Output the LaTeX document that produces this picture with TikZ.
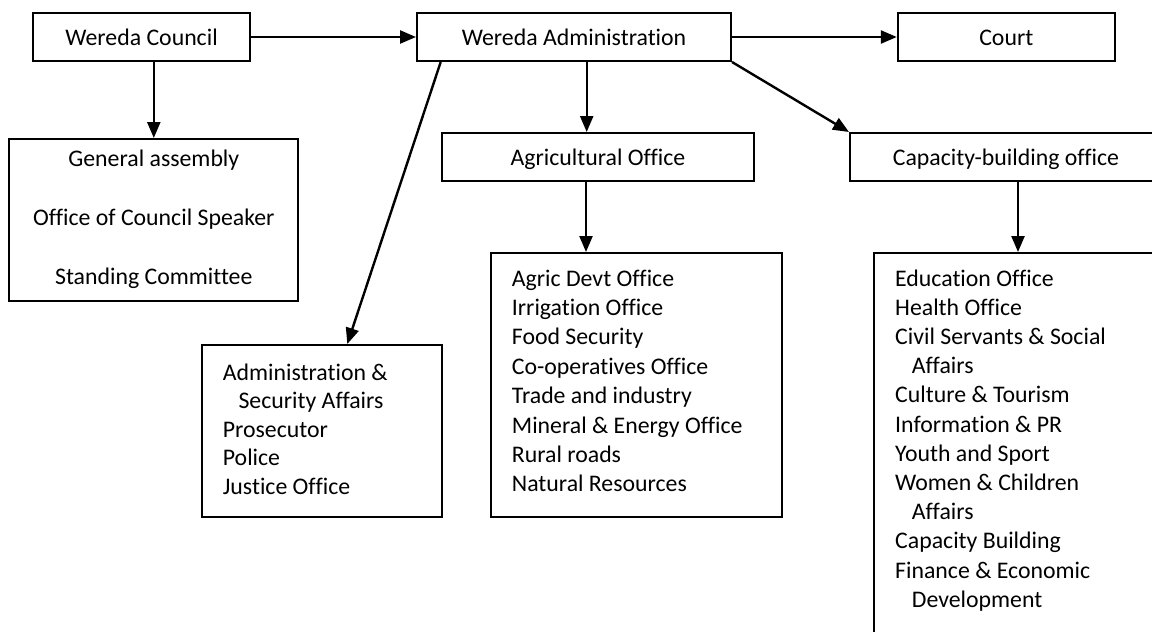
\documentclass[tikz,border=0pt]{standalone}
\usepackage{fontspec}
\setmainfont{Carlito}[Ligatures=NoCommon]
\usetikzlibrary{arrows.meta,calc}
\begin{document}
\begin{tikzpicture}[x=1pt,y=-1pt,
  box/.style={draw, line width=2pt, inner sep=0pt, minimum height=48pt, text height=17pt, text depth=0pt, font=\fontsize{23.8}{29}\selectfont},
  frame/.style={draw, line width=2pt, inner sep=0pt},
  lst/.style={anchor=base west, inner sep=0pt, font=\fontsize{23.8}{29}\selectfont},
  ctext/.style={anchor=base, inner sep=0pt, font=\fontsize{23.8}{29}\selectfont},
  conn/.style={line width=2.4pt, -{Triangle[length=16pt,width=13pt]}}]
\useasboundingbox (0,0) rectangle (1152,632);
\clip (0,0) rectangle (1152,632);
% top row
\node[box, minimum width=217pt] (council) at (141.5,37) {Wereda Council};
\node[box, minimum width=314pt] (admin) at (574,37) {Wereda Administration};
\node[box, minimum width=217pt] (court) at (1006.3,37) {Court};
% second row
\node[box, minimum width=312pt] (agoff) at (598,157) {Agricultural Office};
\node[box, minimum width=312pt] (capoff) at (1006,157) {Capacity-building office};
% frames
\node[frame, minimum width=289pt, minimum height=162pt] (gen) at (153.8,220) {};
\node[frame, minimum width=240pt, minimum height=172pt] (adlist) at (322,431) {};
\node[frame, minimum width=291pt, minimum height=264pt] (aglist) at (636.5,385) {};
\node[frame, minimum width=306pt, minimum height=407pt] (caplist) at (1027,456.5) {};
% general box text
\node[ctext] (g1) at (153.8,166) {General assembly};
\node[ctext] (g2) at (153.8,225) {Office of Council Speaker};
\node[ctext] (g3) at (153.8,284) {Standing Committee};
% lists
\node[lst] (adtext) at (222.7,380) {\parbox[t]{215pt}{\fontsize{23.8}{28.5}\selectfont\raggedright
Administration \&\\
\hspace*{15.6pt}Security Affairs\\
Prosecutor\\
Police\\
Justice Office}};
\node[lst] (agtext) at (511.7,286) {\parbox[t]{265pt}{\fontsize{23.8}{29.4}\selectfont\raggedright
Agric Devt Office\\
Irrigation Office\\
Food Security\\
Co-operatives Office\\
Trade and industry\\
Mineral \& Energy Office\\
Rural roads\\
Natural Resources}};
\node[lst] (captext) at (895,286) {\parbox[t]{250pt}{\fontsize{23.8}{29.2}\selectfont\raggedright
Education Office\\
Health Office\\
Civil Servants \& Social\\
\hspace*{16.7pt}Affairs\\
Culture \& Tourism\\
Information \& PR\\
Youth and Sport\\
Women \& Children\\
\hspace*{16.7pt}Affairs\\
Capacity Building\\
Finance \& Economic\\
\hspace*{16.7pt}Development}};
% connectors
\draw[conn] (council.east) -- (admin.west);
\draw[conn] (admin.east) -- (court.west);
\draw[conn] (gen.north |- council.south) -- (gen.north);
\draw[conn] ([xshift=12.7pt]admin.south) -- ([xshift=12.7pt]admin.south |- agoff.north);
\draw[conn] ([xshift=24.7pt]admin.south west) -- ([xshift=146.3pt]adlist.north west);
\draw[conn] (admin.south east) -- (capoff.north west);
\draw[conn] ([xshift=-12pt]agoff.south) -- ([xshift=-12pt]agoff.south |- aglist.north);
\draw[conn] ([xshift=12pt]capoff.south) -- ([xshift=12pt]capoff.south |- caplist.north);
\end{tikzpicture}
\end{document}
